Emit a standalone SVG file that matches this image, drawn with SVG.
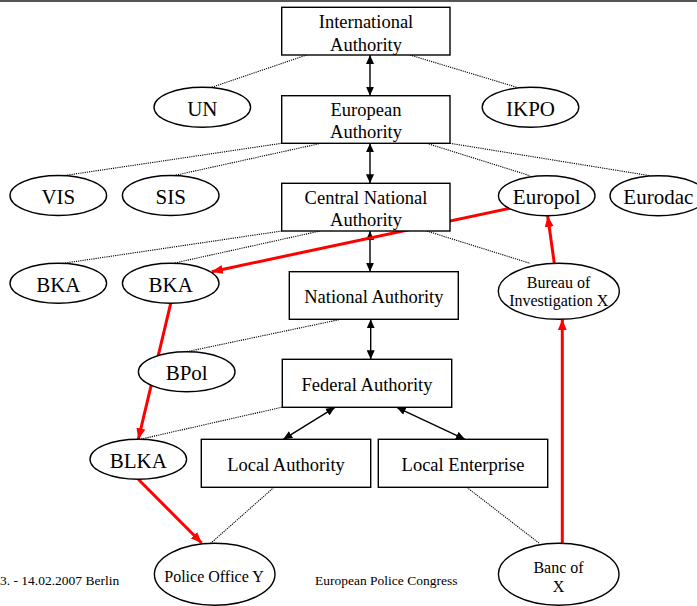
<svg xmlns="http://www.w3.org/2000/svg" width="697" height="606" viewBox="0 0 697 606" font-family="'Liberation Serif', 'Times New Roman', Times, serif">
<defs>
<style>
.box{fill:#fff;stroke:#000;stroke-width:1.4}
.ell{fill:#fff;stroke:#000;stroke-width:1.4}
.t{font-family:'Liberation Serif','Times New Roman',Times,serif;fill:#000;text-anchor:middle}
.bt{font-size:18.5px}
.et{font-size:21px}
.st{font-size:16px}
.ft{font-size:13.5px}
.dot{stroke:#000;stroke-width:1.1;stroke-dasharray:1.2 1;fill:none}
.blk{stroke:#000;stroke-width:1.4;fill:none;marker-start:url(#ah);marker-end:url(#ah)}
.red{stroke:#f00;stroke-width:3;fill:none;marker-end:url(#rh)}
</style>
<marker id="ah" markerUnits="userSpaceOnUse" markerWidth="9" markerHeight="8" refX="9" refY="4" orient="auto-start-reverse"><path d="M0,0 L9,4 L0,8 z" fill="#000"/></marker>
<marker id="rh" markerUnits="userSpaceOnUse" markerWidth="11" markerHeight="9" refX="11" refY="4.5" orient="auto"><path d="M0,0 L11,4.5 L0,9 z" fill="#f00"/></marker>
</defs>
<rect width="697" height="606" fill="#fff"/>
<line x1="0" y1="1" x2="697" y2="1" stroke="#555" stroke-width="2"/>

<g id="connectors">
<line class="dot" x1="306.7" y1="55" x2="211.7" y2="87.3"/>
<line class="dot" x1="410" y1="55" x2="516.7" y2="87.3"/>
<line class="dot" x1="281.7" y1="143.3" x2="63.3" y2="175.7"/>
<line class="dot" x1="321" y1="143.3" x2="173.3" y2="175.7"/>
<line class="dot" x1="426.7" y1="143.3" x2="530" y2="175.7"/>
<line class="dot" x1="450" y1="143.3" x2="650" y2="175.7"/>
<line class="dot" x1="281.7" y1="231" x2="63.3" y2="263.3"/>
<line class="dot" x1="320" y1="231" x2="173.3" y2="263.3"/>
<line class="dot" x1="426.7" y1="231" x2="530" y2="263.3"/>
<line class="dot" x1="341" y1="319.3" x2="186.7" y2="351.7"/>
<line class="dot" x1="281.7" y1="407.3" x2="140" y2="439.3"/>
<line class="dot" x1="274" y1="487.3" x2="210.7" y2="543.3"/>
<line class="dot" x1="466.7" y1="487.3" x2="539.3" y2="543.3"/>
<line class="blk" x1="370" y1="55" x2="370" y2="95.7"/>
<line class="blk" x1="370" y1="143.3" x2="370" y2="183.3"/>
<line class="blk" x1="370" y1="231" x2="370" y2="271.7"/>
<line class="blk" x1="370.7" y1="319.3" x2="370.7" y2="359.3"/>
<line class="blk" x1="335" y1="407.3" x2="283.3" y2="439.3"/>
<line class="blk" x1="396.7" y1="407.3" x2="465" y2="439.3"/>
<line class="red" x1="514.3" y1="207.3" x2="211.7" y2="271.7"/>
<line class="red" x1="554.3" y1="263.3" x2="547.7" y2="216"/>
<line class="red" x1="562.3" y1="543.3" x2="562.3" y2="319.3"/>
<line class="red" x1="170.7" y1="303.3" x2="138.3" y2="439.3"/>
<line class="red" x1="138.3" y1="479.3" x2="201.7" y2="543"/>
</g>

<g id="international"><rect class="box" x="281.7" y="7.3" width="168.3" height="47.7"/><text class="t bt" x="366" y="27.5">International</text><text class="t bt" x="366" y="50.5">Authority</text></g>
<g id="european"><rect class="box" x="281.7" y="95.7" width="168.3" height="47.6"/><text class="t bt" x="366" y="115.5">European</text><text class="t bt" x="366" y="138">Authority</text></g>
<g id="central"><rect class="box" x="281.7" y="183.3" width="168.3" height="47.7"/><text class="t bt" x="366" y="203.5">Central National</text><text class="t bt" x="366" y="226">Authority</text></g>
<g id="national"><rect class="box" x="289.3" y="271.7" width="169" height="47.6"/><text class="t bt" x="373.8" y="302.5">National Authority</text></g>
<g id="federal"><rect class="box" x="282.3" y="359.3" width="169.4" height="48"/><text class="t bt" x="367" y="390.5">Federal Authority</text></g>
<g id="local-authority"><rect class="box" x="201.3" y="439.3" width="169.4" height="48"/><text class="t bt" x="286" y="470.5">Local Authority</text></g>
<g id="local-enterprise"><rect class="box" x="378.3" y="439.3" width="169.4" height="48"/><text class="t bt" x="463" y="470.5">Local Enterprise</text></g>

<g id="un"><ellipse class="ell" cx="202.3" cy="107.3" rx="48.3" ry="20"/><text class="t et" x="202.3" y="116">UN</text></g>
<g id="ikpo"><ellipse class="ell" cx="530.5" cy="107.3" rx="48.3" ry="20"/><text class="t et" x="530.5" y="116">IKPO</text></g>
<g id="vis"><ellipse class="ell" cx="58.3" cy="195.5" rx="48.3" ry="20"/><text class="t et" x="58.3" y="204">VIS</text></g>
<g id="sis"><ellipse class="ell" cx="170.7" cy="195.5" rx="48.3" ry="20"/><text class="t et" x="170.7" y="204">SIS</text></g>
<g id="europol"><ellipse class="ell" cx="546.7" cy="195.7" rx="48.3" ry="20"/><text class="t et" x="546.7" y="204">Europol</text></g>
<g id="eurodac"><ellipse class="ell" cx="658.3" cy="195.7" rx="48.3" ry="20"/><text class="t et" x="658.3" y="204">Eurodac</text></g>
<g id="bka1"><ellipse class="ell" cx="58.3" cy="283.3" rx="48.3" ry="20"/><text class="t et" x="58.3" y="292">BKA</text></g>
<g id="bka2"><ellipse class="ell" cx="170.7" cy="283.3" rx="48.3" ry="20"/><text class="t et" x="170.7" y="292">BKA</text></g>
<g id="bureau"><ellipse class="ell" cx="558.8" cy="291.3" rx="60.5" ry="28"/><text class="t st" x="558.5" y="288">Bureau of</text><text class="t st" x="558.7" y="306">Investigation X</text></g>
<g id="bpol"><ellipse class="ell" cx="186.7" cy="371.7" rx="48.3" ry="20"/><text class="t et" x="186.7" y="380">BPol</text></g>
<g id="blka"><ellipse class="ell" cx="138.3" cy="459.3" rx="48.3" ry="20"/><text class="t et" x="138.3" y="467.5">BLKA</text></g>
<g id="police"><ellipse class="ell" cx="214.7" cy="574.3" rx="60.3" ry="31"/><text class="t st" x="214" y="581.5">Police Office Y</text></g>
<g id="banc"><ellipse class="ell" cx="558.7" cy="574.3" rx="60.3" ry="31"/><text class="t st" x="558.5" y="572.5">Banc of</text><text class="t st" x="558.5" y="591.5">X</text></g>

<g id="footer">
<text class="t ft" x="0" y="585" style="text-anchor:start">3. - 14.02.2007 Berlin</text>
<text class="t ft" x="315" y="585" style="text-anchor:start">European Police Congress</text>
</g>
</svg>
